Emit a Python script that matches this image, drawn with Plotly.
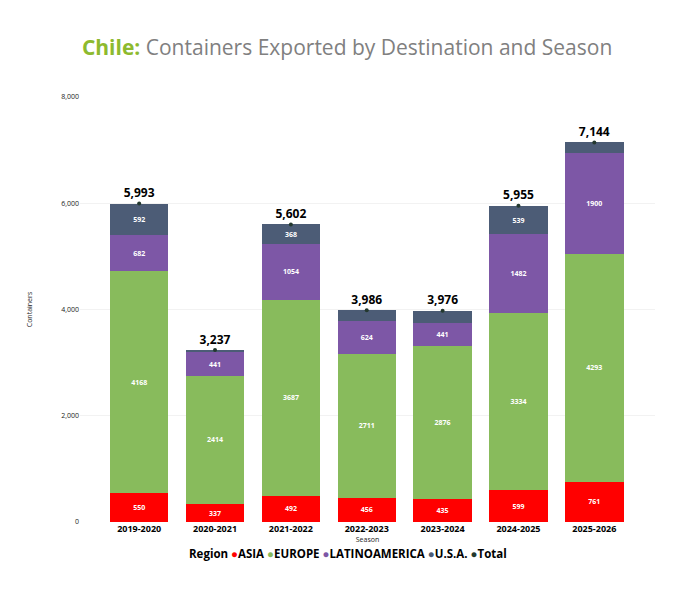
import plotly.graph_objects as go

seasons = ["2019-2020", "2020-2021", "2021-2022", "2022-2023", "2023-2024", "2024-2025", "2025-2026"]
asia = [550, 337, 492, 456, 435, 599, 761]
europe = [4168, 2414, 3687, 2711, 2876, 3334, 4293]
latam = [682, 441, 1054, 624, 441, 1482, 1900]
usa = [592, 45, 368, 196, 224, 539, 191]
totals = [5993, 3237, 5602, 3986, 3976, 5955, 7144]

series = [
    ("ASIA", asia, "#FF0000"),
    ("EUROPE", europe, "#88BB5C"),
    ("LATINOAMERICA", latam, "#7D57A6"),
    ("U.S.A.", usa, "#4C5C76"),
]
total_color = "#23382E"
font = "Open Sans"
axis_text = "#222222"

fig = go.Figure()

for name, vals, col in series:
    fig.add_trace(go.Bar(
        x=seasons, y=vals, name=name, marker_color=col,
        marker_line_width=0, width=0.77,
        text=vals, texttemplate="%{text}", textposition="inside",
        insidetextanchor="middle",
        textfont=dict(color="white", size=7, family=font, weight="bold"),
        showlegend=False, hoverinfo="x+y+name",
    ))

fig.add_trace(go.Scatter(
    x=seasons, y=totals, mode="markers+text", name="Total",
    marker=dict(color=total_color, size=4),
    text=[f"{v:,}" for v in totals], textposition="top center",
    textfont=dict(color="black", size=12, family=font, weight="bold"),
    showlegend=False,
))

# legend drawn as one line of text with round markers
legend_items = [(n, c) for n, _, c in series] + [("Total", total_color)]
legend_text = "<b>Region</b> " + " ".join(
    f"<span style='color:{c}'>●</span><b>{n}</b>" for n, c in legend_items
)

# page body has an 8px margin, so the figure is 8px smaller each way
fig.update_layout(
    barmode="stack",
    width=692, height=585,
    template="none",
    paper_bgcolor="white", plot_bgcolor="white",
    font=dict(family=font),
    margin=dict(l=72, r=45, t=89, b=71),
    title=dict(
        text="<b><span style='color:#8DBA2E'>Chile:</span></b> Containers Exported by Destination and Season",
        font=dict(size=21, color="#808080", family=font),
        x=0.49, xanchor="center", y=0.932, yanchor="middle",
    ),
    showlegend=False,
    uniformtext=dict(minsize=7, mode="hide"),
    xaxis=dict(
        range=[-0.78, 6.8], automargin=False,
        title=dict(text="Season", font=dict(size=7, color=axis_text), standoff=3),
        tickfont=dict(size=9, color="black", weight="bold"),
        showgrid=False, zeroline=False, showline=False, ticks="",
    ),
    yaxis=dict(
        range=[0, 8000], automargin=False,
        tickvals=[0, 2000, 4000, 6000, 8000],
        tickformat=",",
        tickfont=dict(size=7, color=axis_text),
        title=dict(text="Containers", font=dict(size=7, color=axis_text), standoff=27),
        showgrid=True, gridcolor="#F2F2F2", gridwidth=1,
        zeroline=False, showline=False, ticks="",
    ),
    annotations=[dict(
        text=legend_text, xref="paper", yref="paper",
        x=0.466, y=-0.073, xanchor="center", yanchor="middle",
        showarrow=False, font=dict(size=11.5, color="black", family=font),
    )],
)

fig.write_html("out.html")
